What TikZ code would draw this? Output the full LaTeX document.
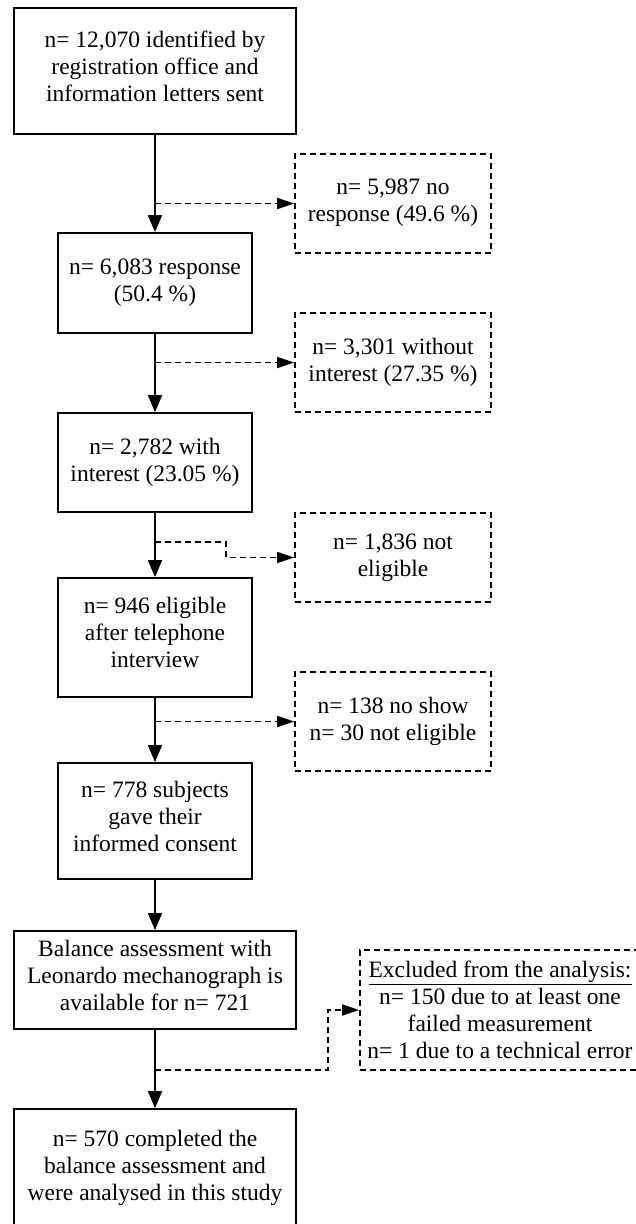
\documentclass[tikz,border=0pt]{standalone}
\usepackage{fontspec}
\setmainfont{Liberation Serif}
\usetikzlibrary{arrows.meta}
\newcommand{\boxfont}{\fontsize{23.5}{26.8}\selectfont}
\newcommand{\liftup}{\\[-17pt]}
\tikzset{
  box/.style={draw, line width=1.8pt, align=center, inner sep=0pt, font=\boxfont},
  dbox/.style={box, dash pattern=on 6pt off 4pt},
  arr/.style={line width=1.8pt, -{Triangle[length=17pt,width=14pt]}},
  darr/.style={line width=1.8pt, dash pattern=on 6pt off 4pt, -{Triangle[length=17pt,width=11pt]}},
}
\begin{document}
\begin{tikzpicture}[x=1pt,y=-1pt]
\useasboundingbox (0,0) rectangle (636,1224);
\node[box, minimum width=282pt, minimum height=126pt] (b1) at (155,71) {n= 12,070 identified by\\registration office and\\information letters sent\liftup};
\node[box, minimum width=194pt, minimum height=100pt] (b2) at (155,283) {n= 6,083 response\\(50.4 \%)};
\node[box, minimum width=194pt, minimum height=99pt] (b3) at (155,462.5) {n= 2,782 with\\interest (23.05 \%)};
\node[box, minimum width=194pt, minimum height=119pt] (b4) at (155,637.5) {n= 946 eligible\\after telephone\\interview\liftup};
\node[box, minimum width=194pt, minimum height=116pt] (b5) at (155,821) {n= 778 subjects\\gave their\\informed consent\liftup};
\node[box, minimum width=282pt, minimum height=98pt] (b6) at (155,980) {Balance assessment with\\Leonardo mechanograph is\\available for n= 721\liftup};
\node[box, minimum width=282pt, minimum height=123pt] (b7) at (155,1170.5) {n= 570 completed the\\balance assessment and\\were analysed in this study\liftup};

\node[dbox, minimum width=196pt, minimum height=99pt] (d1) at (393,203.5) {n= 5,987 no\\response (49.6 \%)\\[-20pt]};
\node[dbox, minimum width=196pt, minimum height=99pt] (d2) at (393,362.5) {n= 3,301 without\\interest (27.35 \%)};
\node[dbox, minimum width=196pt, minimum height=89pt] (d3) at (393,557.5) {n= 1,836 not\\eligible};
\node[dbox, minimum width=196pt, minimum height=99pt] (d4) at (393,721.5) {n= 138 no show\\n= 30 not eligible};
\node[dbox, minimum width=280pt, minimum height=120pt] (d5) at (500,1010) {\underline{Excluded from the analysis:}\\n= 150 due to at least one\\failed measurement\\n= 1 due to a technical error};

\draw[arr] (b1) -- (b2);
\draw[arr] (b2) -- (b3);
\draw[arr] (b3) -- (b4);
\draw[arr] (b4) -- (b5);
\draw[arr] (b5) -- (b6);
\draw[arr] (b6) -- (b7);

\coordinate (s1) at (155,203.5);
\coordinate (s2) at (155,362.5);
\coordinate (s3) at (155,542);
\coordinate (s4) at (155,721.5);
\coordinate (s5) at (155,1070);
\draw[darr] (s1) -- (d1.west);
\draw[darr] (s2) -- (d2.west);
\draw[darr] (s3) -- (226,542) |- (d3.west);
\draw[darr] (s4) -- (d4.west);
\draw[darr] (s5) -- (328,1070) |- (d5.west);
\end{tikzpicture}
\end{document}
